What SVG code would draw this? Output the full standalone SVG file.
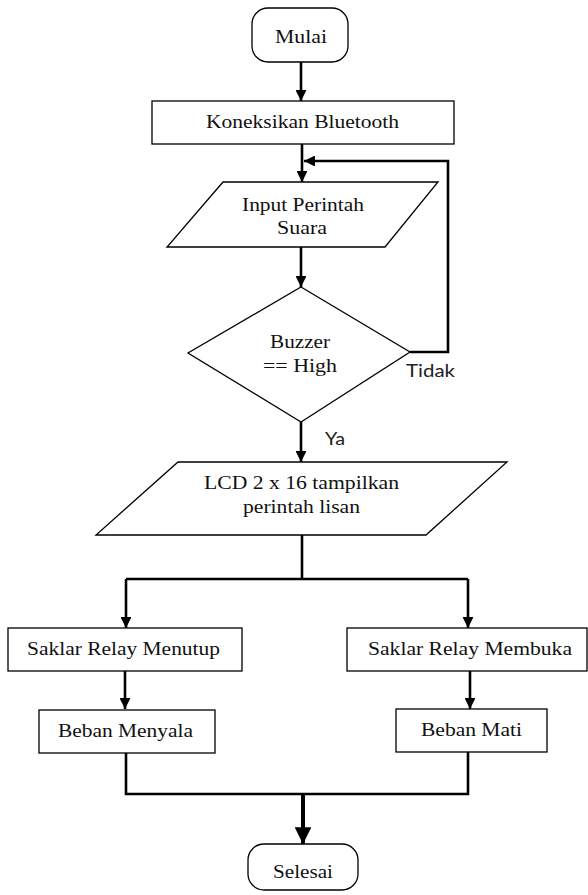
<svg xmlns="http://www.w3.org/2000/svg" width="588" height="895" viewBox="0 0 588 895">
<style>
.s{fill:#fff;stroke:#000;stroke-width:1.3}
.t{font-family:"Liberation Serif","Times New Roman",serif;font-size:19px;fill:#111;text-anchor:middle}
.l{font-family:Lato,"Open Sans","Liberation Sans",Arial,sans-serif;font-size:18px;fill:#222}
.c{fill:none;stroke:#000;stroke-width:2.6}
</style>
<defs>
<marker id="a" viewBox="0 0 10 10" refX="10" refY="5" markerWidth="4.2" markerHeight="4.2" orient="auto" markerUnits="strokeWidth">
<path d="M0,0 L10,5 L0,10 Z" fill="#000"/>
</marker>
</defs>
<rect width="588" height="895" fill="#fff"/>
<g id="connectors">
<path class="c" d="M301,62 V101" marker-end="url(#a)"/>
<path class="c" d="M302,144 V182" marker-end="url(#a)"/>
<path class="c" d="M410,352 H448 V161 H304" marker-end="url(#a)"/>
<path class="c" d="M301,247 V287" marker-end="url(#a)"/>
<path class="c" d="M301,422 V462" marker-end="url(#a)"/>
<path class="c" d="M302,535 V579"/>
<path class="c" d="M126,579 H468"/>
<path class="c" d="M126,579 V628" marker-end="url(#a)"/>
<path class="c" d="M468,579 V628" marker-end="url(#a)"/>
<path class="c" d="M125,671 V709" marker-end="url(#a)"/>
<path class="c" d="M470,671 V709" marker-end="url(#a)"/>
<path class="c" d="M126,753 V794 H468 V752"/>
<path fill="none" stroke="#000" stroke-width="4" d="M303,794 V844" marker-end="url(#a)"/>
<text class="l" x="406" y="377" textLength="49" lengthAdjust="spacingAndGlyphs">Tidak</text>
<text class="l" x="325" y="445" textLength="20" lengthAdjust="spacingAndGlyphs">Ya</text>
</g>
<g id="mulai">
<rect class="s" x="252" y="8" width="96" height="54" rx="16"/>
<text class="t" x="301" y="43" textLength="52" lengthAdjust="spacingAndGlyphs">Mulai</text>
</g>
<g id="koneksi">
<rect class="s" x="152" y="101" width="302" height="43"/>
<text class="t" x="302.5" y="128" textLength="193" lengthAdjust="spacingAndGlyphs">Koneksikan Bluetooth</text>
</g>
<g id="input">
<polygon class="s" points="223,182 438,182 385,247 167,247"/>
<text class="t" x="303" y="211" textLength="122" lengthAdjust="spacingAndGlyphs">Input Perintah</text>
<text class="t" x="302" y="234" textLength="50" lengthAdjust="spacingAndGlyphs">Suara</text>
</g>
<g id="buzzer">
<polygon class="s" points="301,287 410,352 301,422 188,353"/>
<text class="t" x="300" y="348" textLength="60" lengthAdjust="spacingAndGlyphs">Buzzer</text>
<text class="t" x="300" y="372" textLength="74" lengthAdjust="spacingAndGlyphs">== High</text>
</g>
<g id="lcd">
<polygon class="s" points="178,462 507,462 426,535 96,535"/>
<text class="t" x="301.5" y="489" textLength="195" lengthAdjust="spacingAndGlyphs">LCD 2 x 16 tampilkan</text>
<text class="t" x="301.5" y="513" textLength="117" lengthAdjust="spacingAndGlyphs">perintah lisan</text>
</g>
<g id="menutup">
<rect class="s" x="8" y="628" width="234" height="43"/>
<text class="t" x="123.5" y="655" textLength="193" lengthAdjust="spacingAndGlyphs">Saklar Relay Menutup</text>
</g>
<g id="membuka">
<rect class="s" x="347" y="628" width="240" height="43"/>
<text class="t" x="470" y="655" textLength="204" lengthAdjust="spacingAndGlyphs">Saklar Relay Membuka</text>
</g>
<g id="menyala">
<rect class="s" x="39" y="710" width="176" height="43"/>
<text class="t" x="125.5" y="737" textLength="135" lengthAdjust="spacingAndGlyphs">Beban Menyala</text>
</g>
<g id="mati">
<rect class="s" x="396" y="709" width="151" height="43"/>
<text class="t" x="471.5" y="736" textLength="101" lengthAdjust="spacingAndGlyphs">Beban Mati</text>
</g>
<g id="selesai">
<rect class="s" x="248" y="844" width="110" height="46" rx="16"/>
<text class="t" x="303" y="878" textLength="60" lengthAdjust="spacingAndGlyphs">Selesai</text>
</g>
</svg>
